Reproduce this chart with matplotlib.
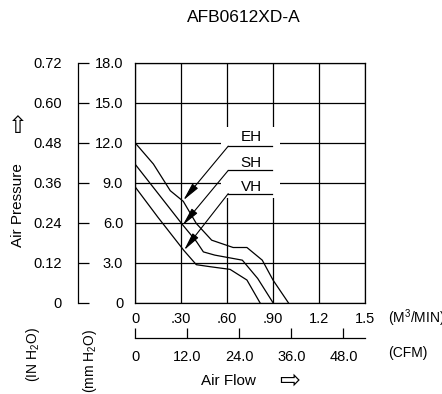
import matplotlib.pyplot as plt
from matplotlib.patches import Rectangle

plt.rcParams['font.family'] = ['Liberation Sans', 'DejaVu Sans']
plt.rcParams['font.size'] = 10
plt.rcParams['mathtext.fontset'] = 'custom'
plt.rcParams['mathtext.rm'] = 'Liberation Sans'
plt.rcParams['mathtext.default'] = 'regular'

# Curve data: air flow (m3/min) vs static pressure (mm H2O)
eh_flow = [0, 0.12, 0.23, 0.315, 0.40, 0.50, 0.64, 0.73, 0.83, 0.90, 1.0]
eh_pres = [12.0, 10.4, 8.4, 7.6, 5.94, 4.69, 4.14, 4.14, 3.19, 1.7, 0]
sh_flow = [0, 0.15, 0.31, 0.40, 0.446, 0.52, 0.70, 0.80, 0.90]
sh_pres = [10.4, 8.2, 5.85, 4.6, 3.81, 3.57, 3.19, 1.82, 0]
vh_flow = [0, 0.15, 0.32, 0.40, 0.49, 0.62, 0.73, 0.815]
vh_pres = [8.7, 6.4, 3.9, 2.85, 2.7, 2.5, 1.7, 0]

# Tick labels
x_ticks = [0, 0.3, 0.6, 0.9, 1.2, 1.5]
x_labels = ['0', '.30', '.60', '.90', '1.2', '1.5']
mm_ticks = [0, 3, 6, 9, 12, 15, 18]
mm_labels = ['0', '3.0', '6.0', '9.0', '12.0', '15.0', '18.0']
in_ticks = [0, 0.12, 0.24, 0.36, 0.48, 0.60, 0.72]
in_labels = ['0', '0.12', '0.24', '0.36', '0.48', '0.60', '0.72']
cfm_ticks = [0, 12, 24, 36, 48]
cfm_labels = ['0', '12.0', '24.0', '36.0', '48.0']

# Curve labels with leader arrows: (name, text y, underline y, arrow tip x, tip y)
callouts = [('EH', 12.46, 11.74, 0.315, 7.68),
            ('SH', 10.47, 9.92, 0.311, 5.81),
            ('VH', 8.67, 8.18, 0.320, 3.94)]

W, H = 442, 394
fig = plt.figure(figsize=(W / 100, H / 100), dpi=100)

L, R, T, B = 135, 365, 62.7, 302.7
ax = fig.add_axes([L / W, 1 - B / H, (R - L) / W, (B - T) / H])
ax.set_xlim(0, 1.5)
ax.set_ylim(0, 18)
ax.set_xticks(x_ticks, x_labels)
ax.set_yticks(mm_ticks, mm_labels)
ax.tick_params(length=0, labelsize=10.5)
ax.tick_params(axis='x', pad=7)
ax.tick_params(axis='y', pad=8.5)
ax.grid(True, color='black', lw=0.9)
ax.set_axisbelow(True)
for s in ax.spines.values():
    s.set_linewidth(0.9)

# white patch behind the callout labels
ax.add_patch(Rectangle((0.561, 7.83), 0.385, 5.37, facecolor='white',
                       edgecolor='none', zorder=1))

for fx, fy in [(eh_flow, eh_pres), (sh_flow, sh_pres), (vh_flow, vh_pres)]:
    ax.plot(fx, fy, color='black', lw=0.9, zorder=2)

for name, ty, uy, tx, tipy in callouts:
    ax.text(0.757, ty, name, ha='center', va='center', fontsize=11, zorder=3)
    ax.plot([0.608, 0.891], [uy, uy], color='black', lw=0.9, zorder=3)
    ax.annotate('', xy=(tx, tipy), xytext=(0.608, uy),
                arrowprops=dict(arrowstyle='-|>,head_length=1.1,head_width=0.22',
                                color='black', lw=0.8, shrinkA=0, shrinkB=0),
                zorder=3)

# inch H2O axis on the far left
ax_in = fig.add_axes([78 / W, 1 - B / H, 0.001, (B - T) / H])
ax_in.set_ylim(0, 0.72)
ax_in.set_yticks(in_ticks, in_labels)
ax_in.set_xticks([])
for k in ['top', 'right', 'bottom']:
    ax_in.spines[k].set_visible(False)
ax_in.spines['left'].set_linewidth(0.9)
ax_in.tick_params(axis='y', direction='in', length=8, width=0.9, pad=11.5,
                  labelsize=10.5)
ax_in.patch.set_visible(False)

# CFM axis below
cy = 337.7
ax_cfm = fig.add_axes([L / W, 1 - cy / H, (R - L) / W, 0.001])
ax_cfm.set_xlim(0, 1.5 * 35.31)
ax_cfm.set_xticks(cfm_ticks, cfm_labels)
ax_cfm.set_yticks([])
for k in ['top', 'right', 'left']:
    ax_cfm.spines[k].set_visible(False)
ax_cfm.spines['bottom'].set_linewidth(0.9)
ax_cfm.tick_params(axis='x', direction='in', length=7, width=0.9, pad=9,
                   labelsize=10.5)
ax_cfm.patch.set_visible(False)

# labels and titles
fig.text(244 / W, 1 - 18 / H, 'AFB0612XD-A', ha='center', va='center', fontsize=12.5)
fig.text(18 / W, 1 - 205 / H, 'Air Pressure', rotation=90, ha='center', va='center',
         fontsize=11)
fig.text(18 / W, 1 - 127 / H, '\u21e7', ha='center', va='center', fontsize=17)
fig.text(33 / W, 1 - 355 / H, '(IN H$_2$O)', rotation=90, ha='center', va='center')
fig.text(90 / W, 1 - 361 / H, '(mm H$_2$O)', rotation=90, ha='center', va='center')
fig.text(388 / W, 1 - 318 / H, '(M$^3$/MIN)', ha='left', va='center')
fig.text(388 / W, 1 - 353.3 / H, '(CFM)', ha='left', va='center')
fig.text(228 / W, 1 - 380.7 / H, 'Air Flow', ha='center', va='center', fontsize=11)
fig.text(290 / W, 1 - 380.7 / H, '\u21e8', ha='center', va='center', fontsize=18)

fig.savefig('out.png', dpi=100)
